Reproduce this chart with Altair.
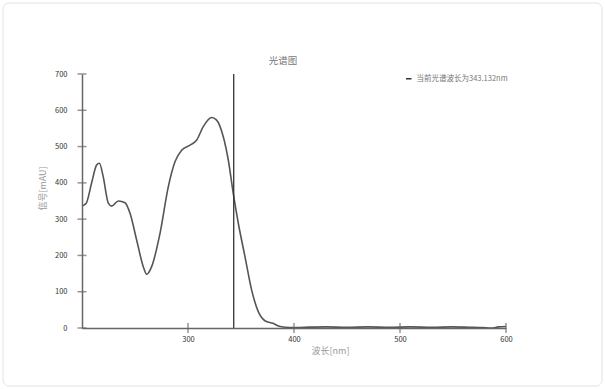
import altair as alt
import pandas as pd

# Spectrum data (wavelength nm, signal mAU)
wavelength = [200, 204, 209, 213.8, 216.4, 220, 224.8, 228, 234.3, 240.6, 245.3, 251.6,
              257.8, 261, 265.7, 273.6, 281.4, 287.7, 294, 301.9, 308.2, 314.4, 322.3,
              327, 333.3, 338, 342.7, 347.5, 353.8, 360, 366.3, 372.6, 380, 387, 396,
              410, 430, 450, 470, 490, 510, 530, 550, 565, 578, 586, 593, 600]
signal = [336, 344, 399, 449, 454, 417, 344, 336, 350, 345, 316, 242,
          169, 148, 169, 261, 389, 458, 490, 504, 518, 555, 580,
          573, 527, 463, 371, 288, 196, 105, 45, 20, 13, 4, 1,
          2, 3, 2, 3, 2, 3, 2, 3, 2, 1, 0, 3, 4]

current_wl = [343.132]
legend_label = ["当前光谱波长为343.132nm"]
chart_title = ["光谱图"]
x_ticks = [300, 400, 500, 600]
y_ticks = [0, 100, 200, 300, 400, 500, 600, 700]

FONT = "Noto Sans CJK SC"
W, H = 424, 254

spec = pd.DataFrame({"wl": wavelength, "sig": signal})
cur = pd.DataFrame({"wl": current_wl, "y0": [0], "y1": [700], "label": legend_label})
xt = pd.DataFrame({"wl": x_ticks})
yt = pd.DataFrame({"sig": y_ticks})
tt = pd.DataFrame({"t": chart_title})

xscale = alt.Scale(domain=[200, 600], nice=False, zero=False)
yscale = alt.Scale(domain=[0, 700], nice=False)

xaxis = alt.Axis(values=x_ticks, title="波长[nm]", ticks=False, grid=False,
                 labelPadding=7, labelFlush=False, labelOverlap=False,
                 titleX=248, titleY=22, titleBaseline="middle",
                 titleAnchor="start", titleAlign="center", zindex=1)
yaxis = alt.Axis(values=y_ticks, title="信号[mAU]", ticks=False, grid=False,
                 labelPadding=15, labelFlush=False, labelOverlap=False,
                 titleX=-40, titleY=114, titleAlign="center",
                 titleBaseline="middle", zindex=1)

card = alt.Chart(pd.DataFrame({"a": [0]})).mark_rect(
    cornerRadius=6, fillOpacity=0, stroke="#e2e2e2", strokeWidth=1
).encode(x=alt.value(-79), x2=alt.value(520), y=alt.value(-71), y2=alt.value(312))

title = alt.Chart(tt).mark_text(font=FONT, fontSize=9.5, color="#777777", baseline="middle").encode(
    text="t:N", x=alt.value(201), y=alt.value(-13))

line = alt.Chart(spec).mark_line(color="#555555", strokeWidth=1.6, interpolate="monotone").encode(
    x=alt.X("wl:Q", scale=xscale, axis=xaxis),
    y=alt.Y("sig:Q", scale=yscale, axis=yaxis),
)

rule = alt.Chart(cur).mark_rule(strokeWidth=1.3).encode(
    x=alt.X("wl:Q", scale=xscale, axis=xaxis),
    y=alt.Y("y0:Q", scale=yscale, axis=yaxis),
    y2="y1:Q",
    color=alt.Color("label:N", scale=alt.Scale(range=["#333333"]),
                    legend=alt.Legend(title=None, orient="none", legendX=323, legendY=1,
                                      symbolType="stroke", symbolSize=30,
                                      symbolStrokeWidth=1.5, labelFontSize=7.5,
                                      labelColor="#777777", labelFont=FONT)),
)

yticks = alt.Chart(yt).mark_tick(color="#666666", thickness=1.5, size=9).encode(
    x=alt.value(0), y=alt.Y("sig:Q", scale=yscale, axis=yaxis))
xticks = alt.Chart(xt).mark_tick(color="#666666", thickness=1.5, size=10).encode(
    y=alt.value(H), x=alt.X("wl:Q", scale=xscale, axis=xaxis))

chart = alt.layer(card, title, line, rule, yticks, xticks).properties(
    width=W, height=H,
    autosize=alt.AutoSizeParams(type="none"),
    padding={"left": 82, "top": 74, "right": 99, "bottom": 61},
    background="white",
).configure_view(stroke=None).configure_axis(
    domainColor="#666666", domainWidth=1.5,
    labelFont=FONT, labelFontSize=7.5, labelColor="#333333",
    titleFont=FONT, titleFontSize=9, titleColor="#999999", titleFontWeight="normal",
)

chart.save("out.html", embed_options={"renderer": "svg", "actions": False})
